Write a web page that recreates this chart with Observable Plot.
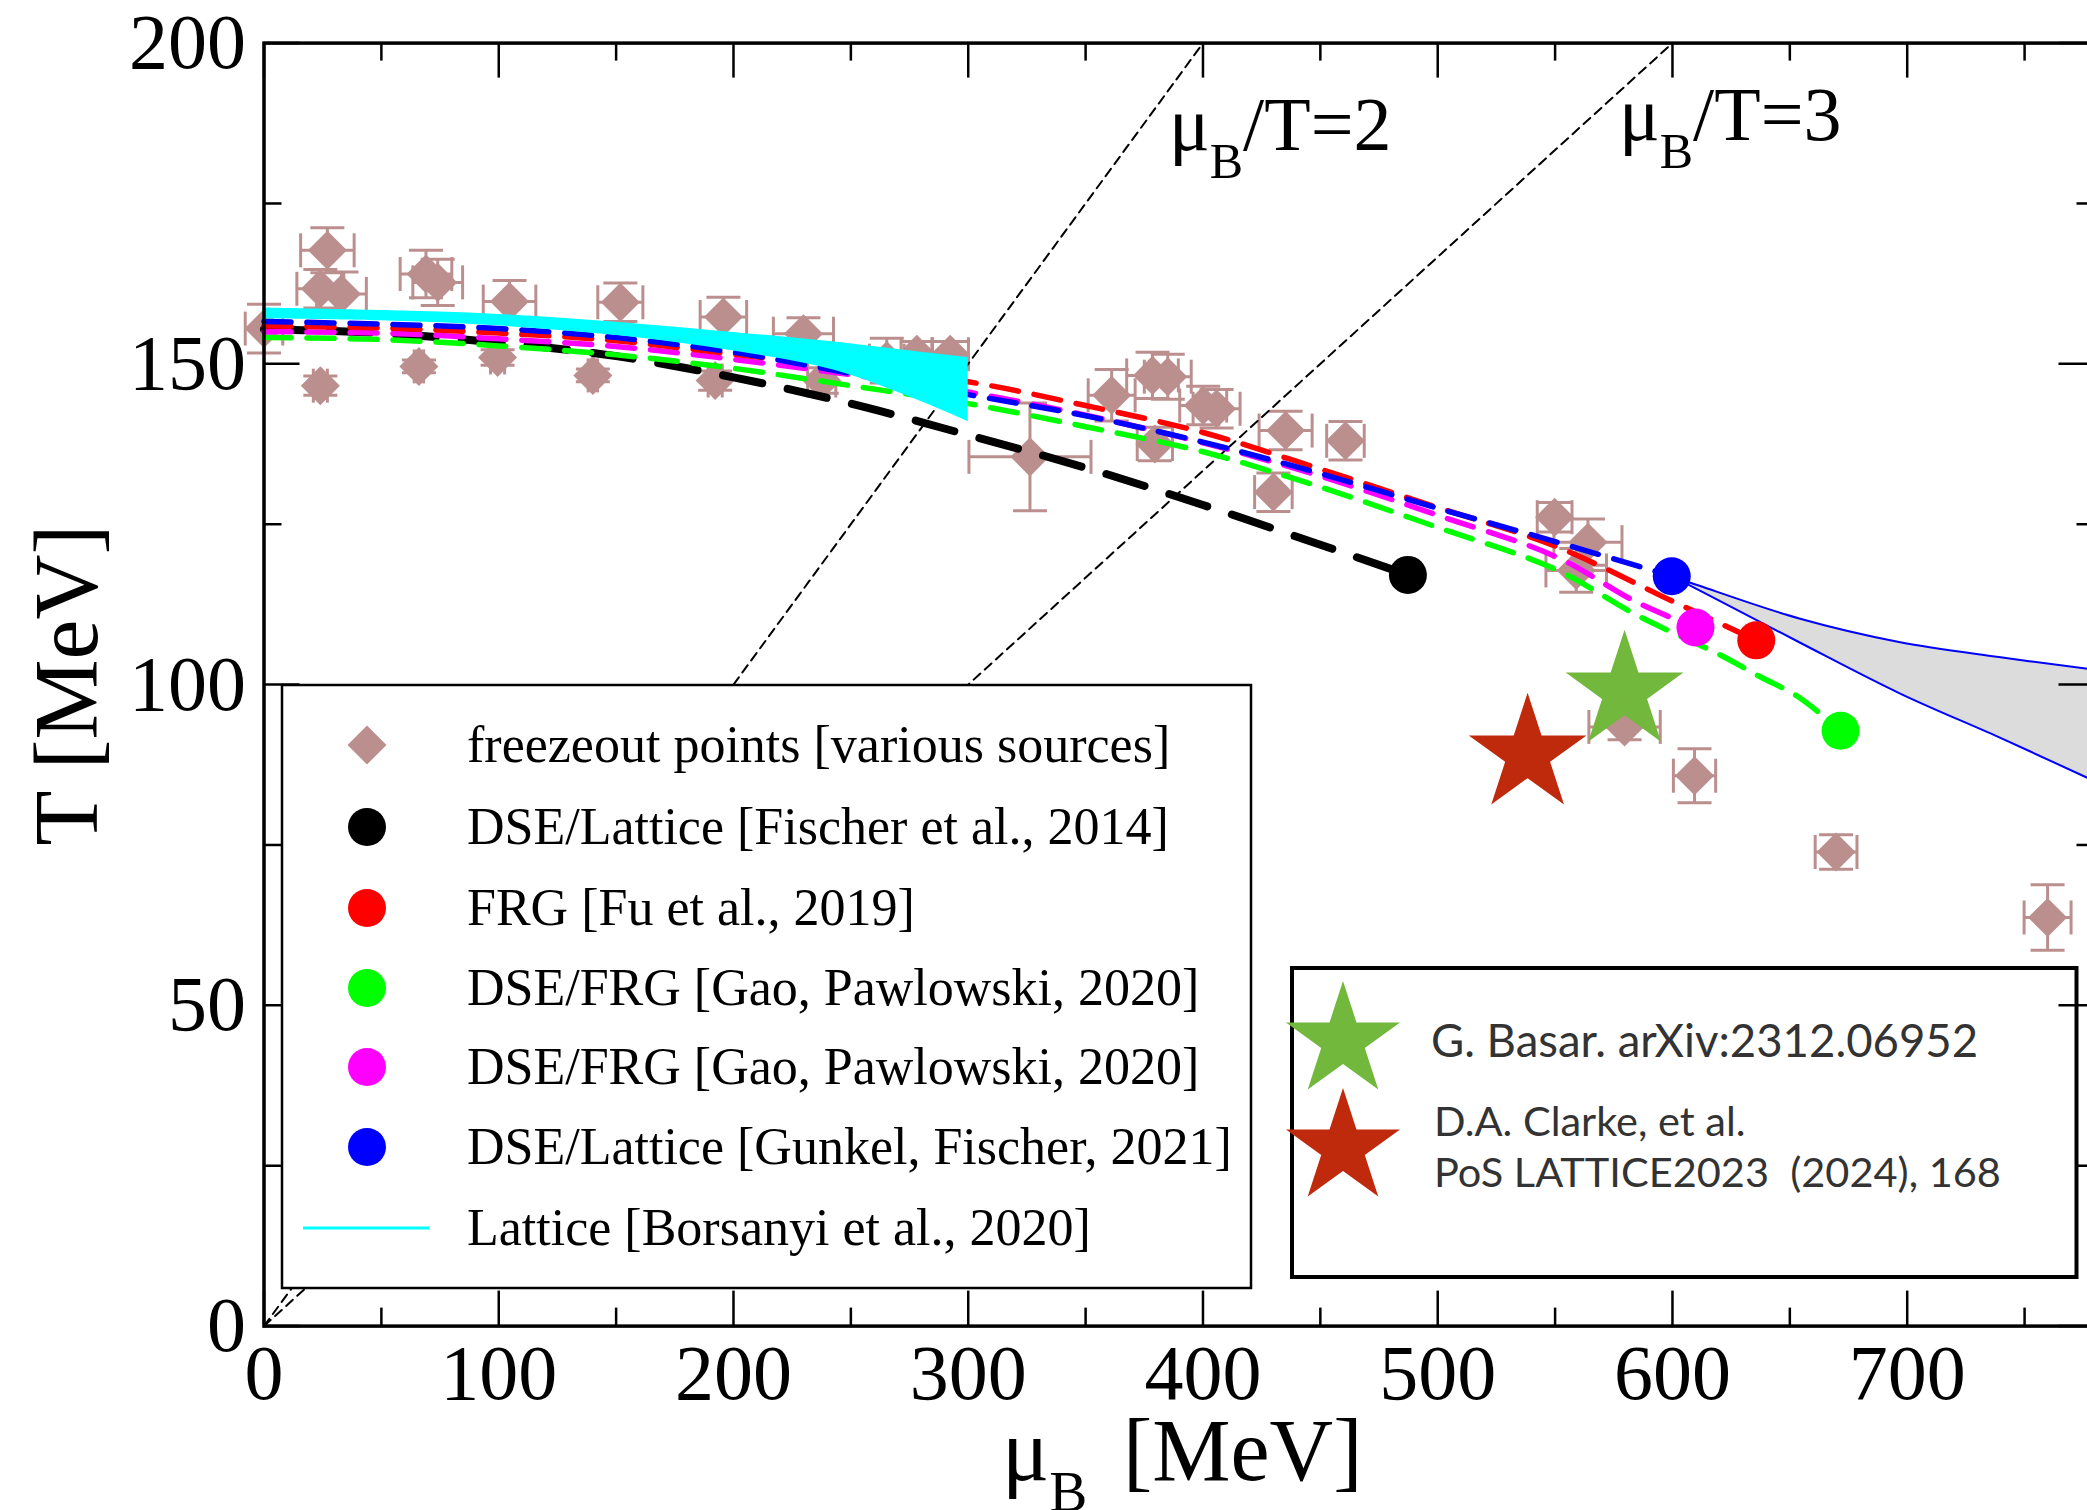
<!DOCTYPE html>
<html>
<head>
<meta charset="utf-8">
<script src="https://cdn.jsdelivr.net/npm/d3@7"></script>
<script src="https://cdn.jsdelivr.net/npm/@observablehq/plot@0.6"></script>
<style>
  html, body { margin: 0; padding: 0; background: #fff; }
  #chart { position: relative; width: 2087px; height: 1510px; overflow: hidden; background: #fff; }
  #chart svg { position: absolute; left: 0; top: 0; }
</style>
</head>
<body>
<div id="chart"></div>
<script>
// ---------- tick values ----------
const xMajor = [0, 100, 200, 300, 400, 500, 600, 700];
const xMinor = [50, 150, 250, 350, 450, 550, 650, 750];
const yMajor = [0, 50, 100, 150, 200];
const yMinor = [25, 75, 125, 175];

// ---------- freeze-out points (muB, T, errors) ----------
const freezeMu  = [0,27,24,33,24,69,74,66,104.6,99.5,151.8,140.1,195.7,192.2,229.8,237.6,265.3,278.1,292.3,326.3,361.1,378.5,385,379.5,400.1,405.8,430,435.2,460.7,549.8,564,559,579.6,609.4,669.7,759.8];
const freezeT   = [155.5,167.7,161.7,160.9,146.6,164.0,162.7,149.6,159.7,151.0,159.6,148.2,157.3,147.4,154.7,147.4,150.5,151.5,151.5,135.5,145.1,148.2,148.0,137.5,143.5,143.0,130,139.6,138.0,126.1,122.2,117.8,93.4,85.8,73.9,63.7];
const freezeDMu = [8,11.4,10,10.6,3,11,10.6,2,11.2,3,9.6,2,9.9,3,12.8,6,7.4,6.7,7.8,26,10,11,10,7.5,10,10,8,11.3,8,7.4,14.5,12.9,15.2,9,8.9,10];
const freezeDT  = [3.8,3.5,3,3.4,1.5,3.7,3.6,1,3.3,1.2,3,1,3.1,1.5,2.5,2,3.5,2,2,8.4,4,3.6,3.5,2.6,3,3,3,3,3,2.3,3.6,3.4,2,4.2,2.7,5.1];

// ---------- crossover lines ----------
const blackMu = [0,50,100,150,200,250,300,350,400,450,487.3];
const blackT  = [155.4,154.8,153.3,151.2,147.9,143.8,138.9,133.8,128.0,121.8,117.1];
const redMu   = [0,50,100,150,200,250,300,350,400,450,500,550,600,635.7];
const redT    = [155.9,155.6,154.8,153.6,151.5,149.4,147.2,143.5,139.3,133.6,127.6,121.6,113.0,106.9];
const blueMu  = [0,50,100,150,200,250,300,350,400,450,500,550,599.7];
const blueT   = [156.6,156.2,155.5,154.1,151.8,148.5,145.2,141.9,137.8,132.9,127.5,122.3,116.9];
const magMu   = [0,50,100,150,200,250,300,350,400,450,500,550,585,609.8];
const magT    = [155.0,154.8,153.9,152.7,150.7,148.3,145.6,142.0,137.7,132.5,126.4,120.0,112.8,108.9];
const greenMu = [0,50,100,150,200,250,300,350,400,450,500,550,585,621,637,654,671.6];
const greenT  = [154.1,153.8,152.8,151.4,149.3,146.6,143.8,140.2,136.3,130.8,124.5,118.0,110.8,104.5,101.3,98.0,92.8];

// critical end points
const cepNames = ["black", "blue", "magenta", "red", "green"];
const cepMu    = [487.3, 599.7, 609.8, 635.7, 671.6];
const cepT     = [117.1, 116.9, 108.9, 106.9, 92.8];
const cepColor = ["#000000", "#0000ff", "#ff00ff", "#ff0000", "#00ff00"];

// lattice band (Borsanyi 2020)
const cyanMu = [0, 50, 100, 150, 200, 243, 278, 300];
const cyanHi = [158.7, 158.3, 157.7, 156.5, 154.9, 153.4, 151.9, 151.0];
const cyanLo = [157.0, 156.7, 155.9, 154.4, 152.0, 149.0, 144.4, 141.0];

// grey band beyond the blue CEP
const grayMu = [599.7, 611.5, 654, 697, 739, 776, 780];
const grayHi = [116.9, 115.4, 110.3, 106.6, 104.3, 102.5, 102.3];
const grayLo = [116.9, 114.7, 106.6, 98.6, 91.8, 85.6, 84.9];

// stars
const starMu    = [538.3, 579.6];
const starT     = [89.1, 98.9];
const starColor = ["#bf2a0c", "#72b83d"];

// muB/T = const guide lines (endpoints)
const muT2 = [[0, 0], [400, 200]];
const muT3 = [[0, 0], [600, 200]];

// legends
const leg1Labels = ["freezeout points [various sources]", "DSE/Lattice [Fischer et al., 2014]", "FRG [Fu et al., 2019]", "DSE/FRG [Gao, Pawlowski, 2020]", "DSE/FRG [Gao, Pawlowski, 2020]", "DSE/Lattice [Gunkel, Fischer, 2021]", "Lattice [Borsanyi et al., 2020]"];
const leg1Colors = ["#bc8f8f", "#000000", "#ff0000", "#00ff00", "#ff00ff", "#0000ff", "#00ffff"];
const leg1Kinds  = ["diamond", "circle", "circle", "circle", "circle", "circle", "line"];
const leg2Lines  = ["G. Basar. arXiv:2312.06952", "D.A. Clarke, et al.", "PoS LATTICE2023  (2024), 168"];

// ---------- build tables ----------
const zip = (mu, T) => mu.map((m, i) => ({mu: m, T: T[i]}));
const freeze = freezeMu.map((m, i) => ({mu: m, T: freezeT[i], dmu: freezeDMu[i], dT: freezeDT[i]}));
const cep = cepMu.map((m, i) => ({mu: m, T: cepT[i], color: cepColor[i]}));
const cyan = cyanMu.map((m, i) => ({mu: m, hi: cyanHi[i], lo: cyanLo[i]}));
const gray = grayMu.map((m, i) => ({mu: m, hi: grayHi[i], lo: grayLo[i]}));
const stars = starMu.map((m, i) => ({mu: m, T: starT[i], color: starColor[i]}));

// ---------- layout ----------
const W = 2087, H = 1510;
const ML = 263.5, MT = 42.6, MB = 184.4, MR = -7.5;
const PW = W - ML - MR, PH = H - MT - MB;
const rose = "#bc8f8f";

const capH = {draw(ctx) { ctx.moveTo(-17, 0); ctx.lineTo(17, 0); }};
const capV = {draw(ctx) { ctx.moveTo(0, -17); ctx.lineTo(0, 17); }};

const dash = {strokeWidth: 5.5, strokeDasharray: "27,16", curve: "catmull-rom"};

const plot = Plot.plot({
  width: W, height: H,
  marginLeft: ML, marginTop: MT, marginBottom: MB, marginRight: MR,
  x: {domain: [0, 780], label: null},
  y: {domain: [0, 200], label: null},
  style: {fontFamily: "'Liberation Serif', 'Times New Roman', serif", fontSize: "78px", background: "white", color: "black"},
  marks: [
    // freeze-out error bars and caps
    Plot.ruleY(freeze, {y: "T", x1: d => d.mu - d.dmu, x2: d => d.mu + d.dmu, stroke: rose, strokeWidth: 3}),
    Plot.ruleX(freeze, {x: "mu", y1: d => d.T - d.dT, y2: d => d.T + d.dT, stroke: rose, strokeWidth: 3}),
    Plot.dot(freeze, {x: d => d.mu - d.dmu, y: "T", symbol: capV, fill: "none", stroke: rose, strokeWidth: 3}),
    Plot.dot(freeze, {x: d => d.mu + d.dmu, y: "T", symbol: capV, fill: "none", stroke: rose, strokeWidth: 3}),
    Plot.dot(freeze, {x: "mu", y: d => d.T - d.dT, symbol: capH, fill: "none", stroke: rose, strokeWidth: 3}),
    Plot.dot(freeze, {x: "mu", y: d => d.T + d.dT, symbol: capH, fill: "none", stroke: rose, strokeWidth: 3}),
    Plot.dot(freeze, {x: "mu", y: "T", symbol: "diamond2", r: 17.6, fill: rose, stroke: "none"}),
    // muB/T guide lines
    Plot.line(muT2, {x: d => d[0], y: d => d[1], stroke: "black", strokeWidth: 2, strokeDasharray: "9,6"}),
    Plot.line(muT3, {x: d => d[0], y: d => d[1], stroke: "black", strokeWidth: 2, strokeDasharray: "9,6"}),
    // crossover lines
    Plot.line(zip(blackMu, blackT), {x: "mu", y: "T", stroke: "black", strokeWidth: 8, strokeDasharray: "40,26", curve: "catmull-rom"}),
    Plot.line(zip(greenMu, greenT), {x: "mu", y: "T", stroke: "#00ff00", ...dash}),
    Plot.line(zip(magMu, magT), {x: "mu", y: "T", stroke: "#ff00ff", ...dash}),
    Plot.line(zip(redMu, redT), {x: "mu", y: "T", stroke: "#ff0000", ...dash}),
    Plot.line(zip(blueMu, blueT), {x: "mu", y: "T", stroke: "#0000ff", ...dash}),
    // lattice band
    Plot.areaY(cyan, {x: "mu", y1: "lo", y2: "hi", fill: "#00ffff", curve: "catmull-rom"}),
    // grey band
    Plot.areaY(gray, {x: "mu", y1: "lo", y2: "hi", fill: "#dcdcdc", curve: "catmull-rom"}),
    Plot.line(gray, {x: "mu", y: "hi", stroke: "#0000ff", strokeWidth: 2, curve: "catmull-rom"}),
    Plot.line(gray, {x: "mu", y: "lo", stroke: "#0000ff", strokeWidth: 2, curve: "catmull-rom"}),
    // end points
    Plot.dot(cep, {x: "mu", y: "T", r: 19, fill: "color", stroke: "none"}),
    // stars
    Plot.dot(stars, {x: "mu", y: "T", symbol: "star", r: 37, fill: "color", stroke: "none"}),
    // frame and inward ticks
    Plot.frame({stroke: "black", strokeWidth: 3.5}),
    Plot.ruleX(xMajor, {stroke: "black", strokeWidth: 2.5, insetTop: PH - 35}),
    Plot.ruleX(xMinor, {stroke: "black", strokeWidth: 2.5, insetTop: PH - 18}),
    Plot.ruleX(xMajor, {stroke: "black", strokeWidth: 2.5, insetBottom: PH - 35}),
    Plot.ruleX(xMinor, {stroke: "black", strokeWidth: 2.5, insetBottom: PH - 18}),
    Plot.ruleY(yMajor, {stroke: "black", strokeWidth: 2.5, insetRight: PW - 36}),
    Plot.ruleY(yMinor, {stroke: "black", strokeWidth: 2.5, insetRight: PW - 18}),
    Plot.ruleY(yMajor, {stroke: "black", strokeWidth: 2.5, insetLeft: PW - 36}),
    Plot.ruleY(yMinor, {stroke: "black", strokeWidth: 2.5, insetLeft: PW - 18}),
    // tick labels
    Plot.axisX(xMajor, {anchor: "bottom", tickSize: 0, tickPadding: 18, label: null, fontSize: 78}),
    Plot.axisY(yMajor, {anchor: "left", tickSize: 0, tickPadding: 18, label: null, fontSize: 78})
  ]
});
document.getElementById("chart").appendChild(plot);

// ---------- overlay: titles and legends ----------
const serif = "'Liberation Serif', 'Times New Roman', serif";
const ov = d3.select("#chart").append("svg")
  .attr("width", W).attr("height", H)
  .attr("font-family", serif);

// y-axis title
ov.append("text")
  .attr("transform", "translate(97,685) rotate(-90)")
  .attr("text-anchor", "middle")
  .attr("font-size", 90)
  .text("T [MeV]");

// x-axis title
const xt = ov.append("text").attr("x", 1002).attr("y", 1480).attr("font-size", 88);
xt.append("tspan").text("μ");
xt.append("tspan").attr("font-size", 57).attr("dy", 31).text("B");
xt.append("tspan").attr("x", 1123).attr("dy", -31).text("[MeV]");

// muB/T labels
function ratioLabel(x, y, s) {
  const t = ov.append("text").attr("x", x).attr("y", y).attr("font-size", 76);
  t.append("tspan").text("μ");
  t.append("tspan").attr("font-size", 50).attr("dy", 28).text("B");
  t.append("tspan").attr("dy", -28).text(s);
}
ratioLabel(1169, 150, "/T=2");
ratioLabel(1619, 140, "/T=3");

// legend 1
const L1 = {x: 282, y: 685, w: 969, h: 603};
ov.append("rect").attr("x", L1.x).attr("y", L1.y).attr("width", L1.w).attr("height", L1.h)
  .attr("fill", "white").attr("stroke", "black").attr("stroke-width", 2.5);
const rowY = [745, 827, 908, 988, 1067, 1147, 1228];
leg1Labels.forEach((lab, i) => {
  const cy = rowY[i], cx = 367, col = leg1Colors[i], kind = leg1Kinds[i];
  if (kind === "diamond") {
    ov.append("path").attr("d", `M${cx},${cy - 19.5}L${cx + 19.5},${cy}L${cx},${cy + 19.5}L${cx - 19.5},${cy}Z`).attr("fill", col);
  } else if (kind === "circle") {
    ov.append("circle").attr("cx", cx).attr("cy", cy).attr("r", 19).attr("fill", col);
  } else {
    ov.append("line").attr("x1", 303).attr("x2", 429).attr("y1", cy).attr("y2", cy).attr("stroke", col).attr("stroke-width", 3);
  }
  ov.append("text").attr("x", 467).attr("y", cy + 17).attr("font-size", 52).text(lab);
});

// legend 2
ov.append("rect").attr("x", 1292).attr("y", 968).attr("width", 784.5).attr("height", 309)
  .attr("fill", "none").attr("stroke", "black").attr("stroke-width", 4);
const starPath = d3.symbol(d3.symbolStar, 60 * 60 / 0.8908130915292852)();
ov.append("path").attr("d", starPath).attr("transform", "translate(1343,1041)").attr("fill", starColor[1]);
ov.append("path").attr("d", starPath).attr("transform", "translate(1343,1148)").attr("fill", starColor[0]);
const sans = "Lato, 'Open Sans', sans-serif";
ov.append("text").attr("x", 1431).attr("y", 1057).attr("font-family", sans).attr("font-size", 45.5)
  .attr("fill", "#333").text(leg2Lines[0]);
ov.append("text").attr("x", 1434).attr("y", 1136).attr("font-family", sans).attr("font-size", 41.5)
  .attr("fill", "#333").text(leg2Lines[1]);
ov.append("text").attr("x", 1434).attr("y", 1187).attr("font-family", sans).attr("font-size", 41.5)
  .attr("fill", "#333").style("white-space", "pre").text(leg2Lines[2]);
</script>
</body>
</html>
